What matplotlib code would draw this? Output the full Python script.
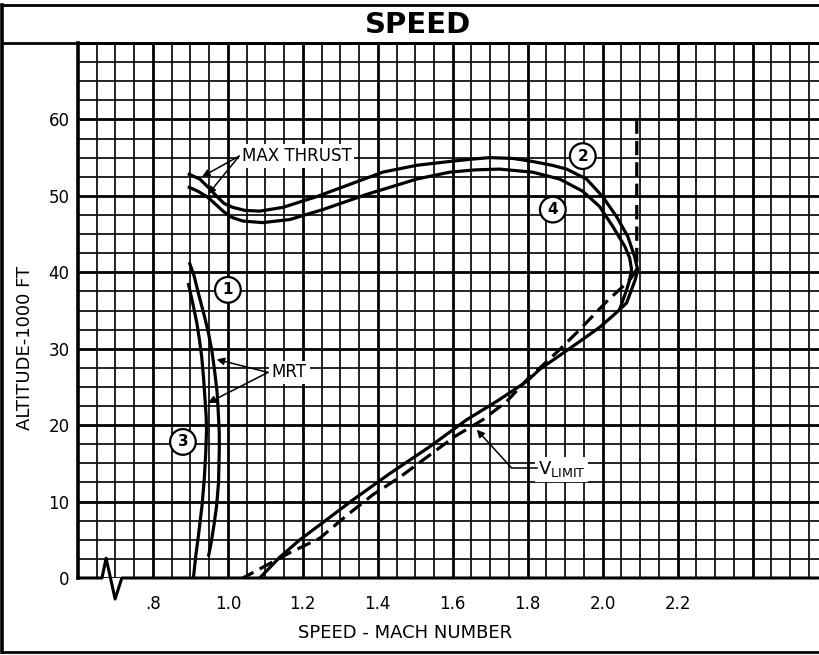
import matplotlib
matplotlib.use("Agg")
import matplotlib.pyplot as plt
from matplotlib.lines import Line2D
import numpy as np

# ---------------- data (Mach, altitude in 1000 ft) ----------------
x_tick_vals = [0.8, 1.0, 1.2, 1.4, 1.6, 1.8, 2.0, 2.2, 2.4]
x_tick_labels = [".8", "1.0", "1.2", "1.4", "1.6", "1.8", "2.0", "2.2", ""]
y_tick_vals = [0, 10, 20, 30, 40, 50, 60, 70]
y_tick_labels = ["0", "10", "20", "30", "40", "50", "60", ""]

# curve 1 (MRT, upper start)
c1_mach = [0.897, 0.910, 0.921, 0.935, 0.948, 0.958, 0.965, 0.971, 0.974, 0.977,
           0.977, 0.975, 0.970, 0.963, 0.956, 0.948]
c1_alt = [41.3, 39.5, 37.3, 34.7, 32.1, 29.5, 26.9, 24.4, 22.0, 19.0,
          16.8, 12.5, 9.5, 7.0, 4.8, 2.8]

# curve 3 (MRT, lower start)
c3_mach = [0.894, 0.906, 0.917, 0.924, 0.930, 0.935, 0.939, 0.942, 0.943, 0.941,
           0.937, 0.931, 0.921, 0.914, 0.908]
c3_alt = [38.6, 36.0, 33.4, 31.2, 29.0, 26.2, 23.3, 21.2, 19.4, 16.5,
          13.0, 9.5, 5.4, 2.8, 0.0]

# curve 2 (MAX THRUST, outer) incl. shared lower branch
c2_mach = [0.893, 0.925, 0.950, 0.971, 0.990, 1.013, 1.045, 1.085, 1.147, 1.237,
           1.325, 1.413, 1.504, 1.592, 1.650, 1.699, 1.760, 1.813, 1.865, 1.904,
           1.957, 2.000, 2.037, 2.067, 2.085, 2.093, 2.088, 2.080, 2.064, 2.045,
           2.020, 1.992, 1.920, 1.832, 1.797, 1.720, 1.637, 1.539, 1.430, 1.333,
           1.260, 1.192, 1.139, 1.085]
c2_alt = [52.9, 52.2, 51.0, 49.9, 49.0, 48.5, 48.1, 48.0, 48.5, 49.9,
          51.5, 53.1, 54.0, 54.5, 54.8, 55.0, 54.9, 54.5, 54.0, 53.5,
          52.2, 49.9, 47.3, 44.7, 42.1, 40.4, 39.2, 38.1, 36.0, 35.1,
          34.0, 32.8, 30.3, 27.3, 25.7, 23.2, 20.7, 17.2, 13.6, 10.2,
          7.5, 5.0, 2.75, 0.0]

# curve 4 (MAX THRUST, inner) joins curve 2
c4_mach = [0.893, 0.920, 0.944, 0.965, 0.987, 1.010, 1.040, 1.093, 1.165, 1.253,
           1.371, 1.504, 1.592, 1.660, 1.725, 1.813, 1.885, 1.947, 1.992, 2.027,
           2.059, 2.072, 2.077, 2.072, 2.064, 2.045]
c4_alt = [51.2, 50.6, 49.9, 49.0, 48.0, 47.2, 46.7, 46.5, 46.9, 48.2,
          50.2, 52.2, 53.1, 53.4, 53.5, 53.1, 52.2, 50.6, 48.6, 46.0,
          43.4, 41.9, 40.4, 39.0, 37.7, 35.1]

# V limit (dashed)
vl_mach = [2.091, 2.091, 2.075, 2.053, 2.011, 1.939, 1.877, 1.797, 1.744, 1.680,
           1.605, 1.539, 1.459, 1.387, 1.320, 1.245, 1.165, 1.093, 1.040]
vl_alt = [60.0, 40.4, 39.2, 38.1, 36.2, 32.5, 29.5, 25.9, 23.1, 20.7,
          18.5, 16.1, 13.2, 10.9, 8.3, 5.2, 3.3, 1.4, 0.0]

# broken axis line at the bottom
brk_x = [0.6, 0.664, 0.675, 0.699, 0.717, 2.58]
brk_y = [0, 0, 2.6, -2.75, 0, 0]

circle_labels = ["1", "2", "3", "4"]
circle_x = [1.000, 1.947, 0.880, 1.867]
circle_y = [37.7, 55.2, 17.8, 48.2]

# ---------------- figure ----------------
plt.rcParams['font.family'] = ['DejaVu Sans']
fig = plt.figure(figsize=(8.2, 6.55), dpi=100)
ax = fig.add_axes([78 / 820, 1 - 578 / 655, 1 - 78 / 820, (578 - 43) / 655])
ax.set_xlim(0.6, 2.58)
ax.set_ylim(0, 70)

ax.set_xticks(x_tick_vals)
ax.set_xticklabels(x_tick_labels, fontsize=12)
ax.set_yticks(y_tick_vals)
ax.set_yticklabels(y_tick_labels, fontsize=12)
ax.set_xticks(np.arange(0.6, 2.6, 0.05), minor=True)
ax.set_yticks(np.arange(0, 70.1, 2.5), minor=True)
ax.tick_params(which='both', length=0)
ax.tick_params(axis='x', pad=12)
ax.tick_params(axis='y', pad=6)
ax.set_axisbelow(True)
ax.grid(which='minor', color='black', lw=1.2)
ax.grid(which='major', color='black', lw=2.0)

for s in ['right', 'bottom']:
    ax.spines[s].set_visible(False)
ax.spines['left'].set_linewidth(2.6)
ax.spines['top'].set_linewidth(2.0)

ax.plot(brk_x, brk_y, color='black', lw=2.2, clip_on=False, zorder=4)

lw = 2.3
for mx, al in [(c1_mach, c1_alt), (c3_mach, c3_alt), (c2_mach, c2_alt), (c4_mach, c4_alt)]:
    ax.plot(mx, al, color='black', lw=lw, solid_capstyle='butt', solid_joinstyle='round')
ax.plot(vl_mach, vl_alt, color='black', lw=lw, linestyle=(0, (4.5, 2.2)))

for lab, cx, cy in zip(circle_labels, circle_x, circle_y):
    ax.text(cx, cy, lab, fontsize=11, fontweight='bold', ha='center', va='center',
            zorder=6,
            bbox=dict(boxstyle='circle,pad=0.35', facecolor='white',
                      edgecolor='black', lw=1.6))

box = dict(facecolor='white', edgecolor='none', pad=2)
ax.text(1.037, 55.2, "MAX THRUST", fontsize=12, ha='left', va='center',
        bbox=box, zorder=6)
ax.text(1.117, 26.9, "MRT", fontsize=12, ha='left', va='center',
        bbox=box, zorder=6)
ax.text(1.827, 14.2, r"V$_{\mathregular{LIMIT}}$", fontsize=13, ha='left',
        va='center', bbox=box, zorder=6)

arr = dict(arrowstyle='-|>', color='black', lw=1.1, mutation_scale=11,
           shrinkA=0, shrinkB=0)
ax.annotate('', xy=(0.931, 52.5), xytext=(1.030, 55.2), arrowprops=arr, zorder=7)
ax.annotate('', xy=(0.947, 50.2), xytext=(1.030, 55.2), arrowprops=arr, zorder=7)
ax.annotate('', xy=(0.970, 28.6), xytext=(1.107, 26.9), arrowprops=arr, zorder=7)
ax.annotate('', xy=(0.947, 22.9), xytext=(1.107, 26.9), arrowprops=arr, zorder=7)
ax.plot([1.824, 1.757], [14.4, 14.4], color='black', lw=1.1, zorder=7)
ax.annotate('', xy=(1.664, 19.4), xytext=(1.757, 14.4), arrowprops=arr, zorder=7)

# frame and title bar
fx0, fy0, fy1 = 2.5 / 820, 1 - 652 / 655, 1 - 5 / 655
fig.add_artist(Line2D([fx0, fx0], [fy0, fy1], color='black', lw=2.6))
fig.add_artist(Line2D([fx0, 1], [fy1, fy1], color='black', lw=2.0))
fig.add_artist(Line2D([fx0, 1], [fy0, fy0], color='black', lw=2.0))
fig.add_artist(Line2D([fx0, 1], [1 - 43 / 655, 1 - 43 / 655], color='black', lw=2.0))

fig.text(418 / 820, 1 - 25 / 655, "SPEED", fontsize=21, fontweight='bold',
         ha='center', va='center')
fig.text(405 / 820, 1 - 633 / 655, "SPEED - MACH NUMBER", fontsize=13,
         ha='center', va='center')
fig.text(25 / 820, 1 - 348 / 655, "ALTITUDE-1000 FT", fontsize=13,
         ha='center', va='center', rotation=90)

fig.savefig("out.png", dpi=100)
